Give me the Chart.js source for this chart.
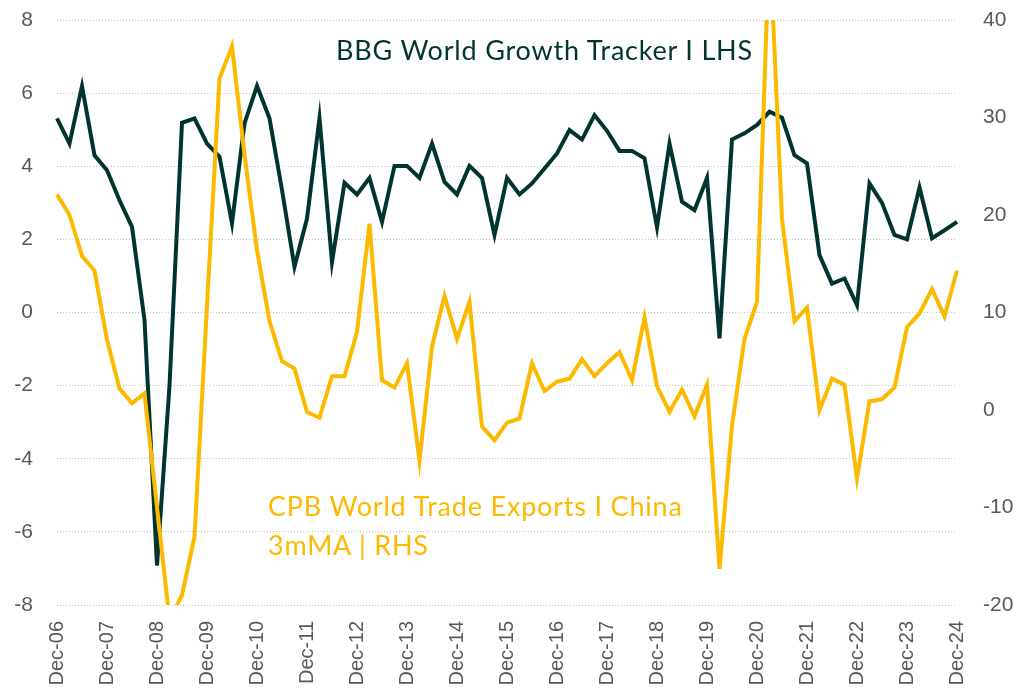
<!DOCTYPE html>
<html>
<head>
<meta charset="utf-8">
<script src="https://cdn.jsdelivr.net/npm/chart.js@4.4.1/dist/chart.umd.min.js"></script>
<style>
  html, body { margin: 0; padding: 0; background: #ffffff; }
  #wrap { position: relative; width: 1020px; height: 697px; }
  #c { position: absolute; left: 0; top: 0; }
  .note { position: absolute; font-family: 'Lato', 'Noto Sans', sans-serif; white-space: nowrap; font-size: 27px; letter-spacing: 0.8px; }
  #noteGrowth { left: 336px; top: 33px; color: #00352f; }
  #noteTrade { left: 268px; top: 486px; line-height: 39px; color: #fbba00; }
</style>
</head>
<body>
<div id="wrap">
  <canvas id="c" width="1020" height="697"></canvas>
  <div class="note" id="noteGrowth">BBG World Growth Tracker I LHS</div>
  <div class="note" id="noteTrade">CPB World Trade Exports I China<br>3mMA | RHS</div>
</div>
<script>
// Quarterly categories, Dec-06 .. Dec-24
const categories = [
  "Dec-06","Mar-07","Jun-07","Sep-07","Dec-07","Mar-08","Jun-08","Sep-08",
  "Dec-08","Mar-09","Jun-09","Sep-09","Dec-09","Mar-10","Jun-10","Sep-10",
  "Dec-10","Mar-11","Jun-11","Sep-11","Dec-11","Mar-12","Jun-12","Sep-12",
  "Dec-12","Mar-13","Jun-13","Sep-13","Dec-13","Mar-14","Jun-14","Sep-14",
  "Dec-14","Mar-15","Jun-15","Sep-15","Dec-15","Mar-16","Jun-16","Sep-16",
  "Dec-16","Mar-17","Jun-17","Sep-17","Dec-17","Mar-18","Jun-18","Sep-18",
  "Dec-18","Mar-19","Jun-19","Sep-19","Dec-19","Mar-20","Jun-20","Sep-20",
  "Dec-20","Mar-21","Jun-21","Sep-21","Dec-21","Mar-22","Jun-22","Sep-22",
  "Dec-22","Mar-23","Jun-23","Sep-23","Dec-23","Mar-24","Jun-24","Sep-24",
  "Dec-24"
];

// BBG World Growth Tracker (LHS)
const growthTracker = [
  5.31, 4.62, 6.19, 4.30, 3.89, 3.07, 2.34, -0.20,
  -6.92, -2.00, 5.19, 5.31, 4.62, 4.26, 2.44, 5.17,
  6.20, 5.31, 3.35, 1.25, 2.57, 5.31, 1.38, 3.55,
  3.23, 3.68, 2.48, 4.01, 4.01, 3.68, 4.62, 3.57,
  3.23, 4.01, 3.68, 2.12, 3.68, 3.23, 3.53, 3.94,
  4.35, 4.99, 4.73, 5.40, 4.97, 4.42, 4.42, 4.22,
  2.33, 4.62, 3.03, 2.80, 3.68, -0.71, 4.73, 4.90,
  5.13, 5.49, 5.33, 4.30, 4.08, 1.57, 0.79, 0.93,
  0.20, 3.53, 3.00, 2.12, 2.00, 3.42, 2.03, 2.25,
  2.48
];

// CPB World Trade Exports China, 3mMA (RHS)
const chinaExports = [
  22.1, 20.0, 15.8, 14.3, 7.2, 2.2, 0.7, 1.7,
  -10.0, -21.5, -19.0, -13.0, 10.7, 34.0, 37.3, 26.2,
  16.4, 9.1, 5.0, 4.25, -0.2, -0.8, 3.46, 3.46,
  8.0, 19.1, 3.05, 2.3, 4.8, -5.2, 6.5, 11.7,
  7.3, 11.1, -1.7, -3.1, -1.3, -0.9, 4.8, 1.95,
  2.9, 3.2, 5.2, 3.46, 4.8, 5.95, 3.05, 9.5,
  2.45, -0.2, 2.1, -0.65, 2.6, -16.3, -1.6, 7.3,
  11.1, 48.5, 19.6, 9.1, 10.5, 0.0, 3.2, 2.6,
  -7.0, 0.9, 1.1, 2.3, 8.5, 9.9, 12.4, 9.6,
  14.3
];

const leftTicks = [-8, -6, -4, -2, 0, 2, 4, 6, 8];
const rightTicks = [-20, -10, 0, 10, 20, 30, 40];

const DARK = '#00352f';
const YELLOW = '#fbba00';
const GREY = '#595959';
const CLEAR = 'rgba(0,0,0,0)';

Chart.defaults.font.family = "'Liberation Sans', Arial, sans-serif";

new Chart(document.getElementById('c'), {
  type: 'line',
  data: {
    labels: categories,
    datasets: [
      {
        label: 'CPB World Trade Exports I China 3mMA | RHS',
        data: chinaExports,
        yAxisID: 'yR',
        borderColor: YELLOW,
        backgroundColor: YELLOW,
        borderWidth: 4,
        pointRadius: 0,
        tension: 0,
        order: 0
      },
      {
        label: 'BBG World Growth Tracker I LHS',
        data: growthTracker,
        yAxisID: 'yL',
        borderColor: DARK,
        backgroundColor: DARK,
        borderWidth: 4,
        pointRadius: 0,
        tension: 0,
        order: 1
      }
    ]
  },
  options: {
    responsive: false,
    animation: false,
    maintainAspectRatio: false,
    layout: { padding: { top: 20, left: 0, right: 0, bottom: 0 } },
    plugins: {
      legend: { display: false },
      tooltip: { enabled: false }
    },
    scales: {
      x: {
        type: 'category',
        offset: false,
        grid: { display: false, drawTicks: false },
        border: { display: false },
        ticks: {
          autoSkip: false,
          minRotation: 90,
          maxRotation: 90,
          padding: 16,
          color: GREY,
          font: { size: 20 },
          callback: function (v, i) { return i % 4 === 0 ? categories[i] : ''; }
        },
        afterFit: function (s) { s.height = 92; }
      },
      yL: {
        position: 'left',
        min: -8,
        max: 8,
        afterBuildTicks: function (s) { s.ticks = leftTicks.map(v => ({ value: v })); },
        grid: {
          drawTicks: true,
          tickLength: 24,
          tickColor: CLEAR,
          color: '#c4c4c4',
          lineWidth: 1
        },
        border: { display: false, dash: [1, 2] },
        ticks: { padding: 0, color: GREY, font: { size: 21 } },
        afterFit: function (s) { s.width = 57; }
      },
      yR: {
        position: 'right',
        min: -20,
        max: 40,
        afterBuildTicks: function (s) { s.ticks = rightTicks.map(v => ({ value: v })); },
        grid: {
          drawOnChartArea: false,
          drawTicks: true,
          tickLength: 26,
          tickColor: CLEAR,
          color: CLEAR
        },
        border: { display: false },
        ticks: { padding: 0, color: GREY, font: { size: 21 } },
        afterFit: function (s) { s.width = 63; }
      }
    }
  }
});
</script>
</body>
</html>
